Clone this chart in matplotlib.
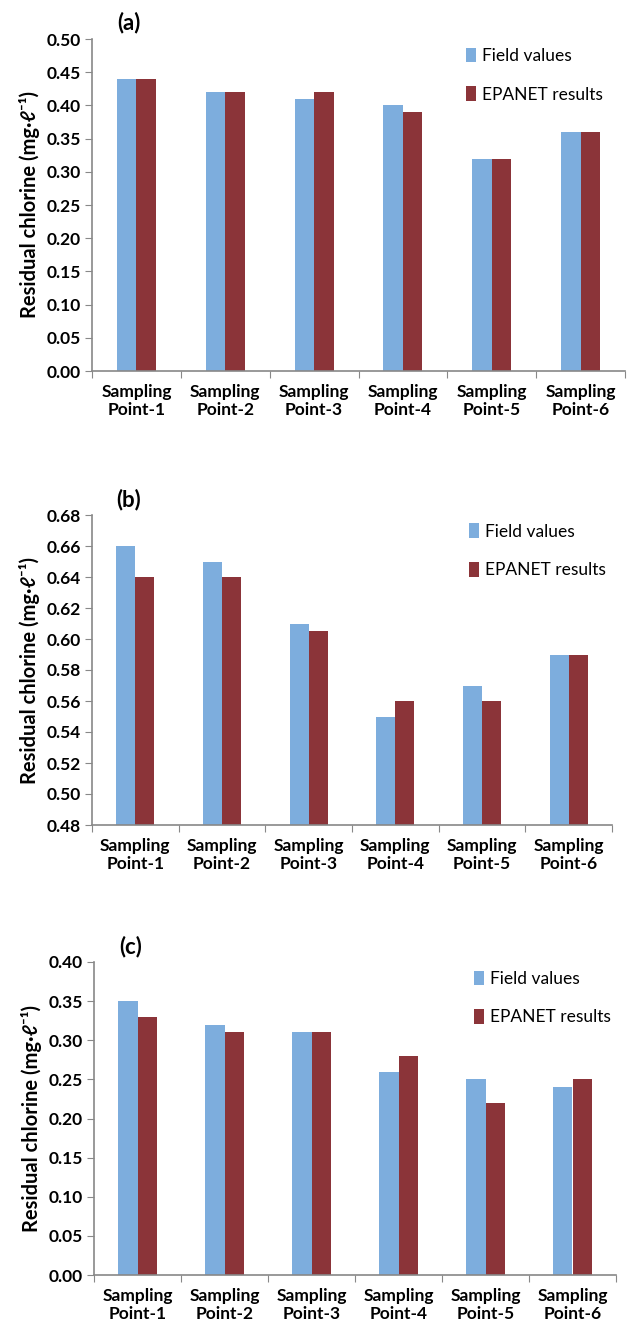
import numpy as np
import matplotlib.pyplot as plt

plt.rcParams['font.family'] = ['Lato', 'DejaVu Sans']

points = ['Sampling\nPoint-1', 'Sampling\nPoint-2', 'Sampling\nPoint-3',
          'Sampling\nPoint-4', 'Sampling\nPoint-5', 'Sampling\nPoint-6']

field_a = [0.44, 0.42, 0.41, 0.40, 0.32, 0.36]
epanet_a = [0.44, 0.42, 0.42, 0.39, 0.32, 0.36]

field_b = [0.66, 0.65, 0.61, 0.55, 0.57, 0.59]
epanet_b = [0.64, 0.64, 0.605, 0.56, 0.56, 0.59]

field_c = [0.35, 0.32, 0.31, 0.26, 0.25, 0.24]
epanet_c = [0.33, 0.31, 0.31, 0.28, 0.22, 0.25]

panels = ['(a)', '(b)', '(c)']
ylims = [(0, 0.50), (0.48, 0.68), (0, 0.40)]
ysteps = [0.05, 0.02, 0.05]

blue = '#7DADDD'
red = '#8B3439'
W, H = 627, 1330

# axes boxes in pixels: left, right, top, bottom
boxes = [(92, 625, 39, 371), (92, 612, 515, 825), (94, 616, 962, 1275)]
# legend left edge (pixels)
leg_x = [459, 462, 467]

fig = plt.figure(figsize=(W / 100, H / 100), dpi=100)

data = [(field_a, epanet_a), (field_b, epanet_b), (field_c, epanet_c)]
for i, (field, epanet) in enumerate(data):
    l, r, t, b = boxes[i]
    ax = fig.add_axes([l / W, 1 - b / H, (r - l) / W, (b - t) / H])
    x = np.arange(len(points))
    bw = 0.22
    lo = ylims[i][0]
    ax.bar(x - bw / 2, np.array(field) - lo, bw, bottom=lo, color=blue, label='Field values')
    ax.bar(x + bw / 2, np.array(epanet) - lo, bw, bottom=lo, color=red, label='EPANET results')

    ax.set_xlim(-0.5, len(points) - 0.5)
    ax.set_ylim(*ylims[i])
    ax.set_yticks(np.arange(ylims[i][0], ylims[i][1] + 1e-9, ysteps[i]))
    ax.yaxis.set_major_formatter(plt.FormatStrFormatter('%.2f'))
    ax.set_xticks(np.arange(len(points) + 1) - 0.5)
    ax.set_xticklabels([])
    ax.set_xticks(x, minor=True)
    ax.set_xticklabels(points, minor=True, fontsize=12.5, fontweight='bold')
    ax.tick_params(axis='x', which='minor', length=0, pad=9)
    ax.tick_params(axis='x', which='major', length=5, color='#888888')
    ax.tick_params(axis='y', length=5, color='#888888', labelsize=12.5, pad=3)
    for lab in ax.get_yticklabels():
        lab.set_fontweight('bold')
    for s in ['top', 'right']:
        ax.spines[s].set_visible(False)
    for s in ['left', 'bottom']:
        ax.spines[s].set_color('#888888')
        ax.spines[s].set_linewidth(1.2)

    ax.set_ylabel('Residual chlorine (mg·ℓ⁻¹)', fontsize=14.5, fontweight='bold', labelpad=5)
    ax.text(0.07, 1.05, panels[i], transform=ax.transAxes, fontsize=16,
            fontweight='bold', ha='center', va='center')
    ax.legend(loc='upper left', bbox_to_anchor=((leg_x[i] - l) / (r - l), 0.995),
              frameon=False, fontsize=12.5, handlelength=0.6, handleheight=0.9,
              handletextpad=0.3, labelspacing=1.3, borderaxespad=0)

fig.savefig('out.png', dpi=100)
